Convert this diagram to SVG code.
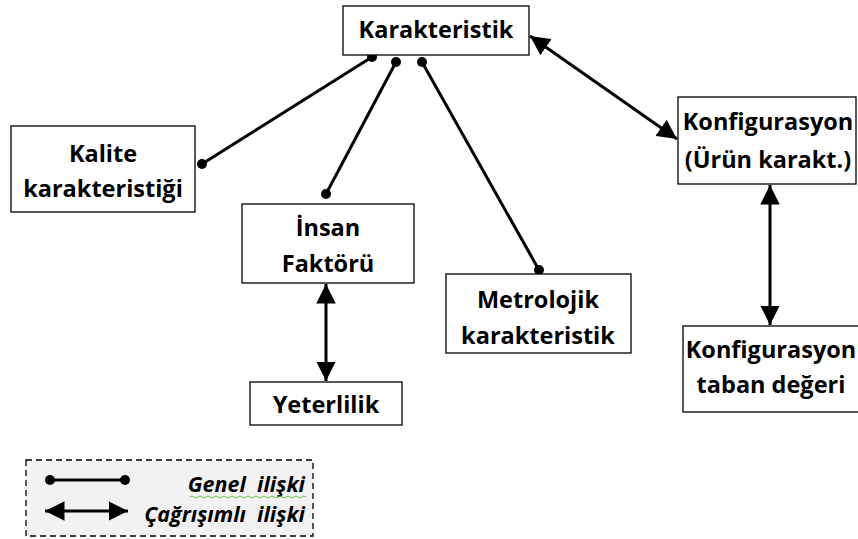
<svg xmlns="http://www.w3.org/2000/svg" width="858" height="539" viewBox="0 0 858 539">
<style>
.box{fill:#fff;stroke:#000;stroke-width:1.3}
.t{font-family:"Open Sans","Liberation Sans",sans-serif;font-weight:700;font-size:23.5px;fill:#000;text-anchor:middle}
.lg{font-family:"Open Sans","Liberation Sans",sans-serif;font-weight:700;font-style:italic;font-size:21.5px;fill:#000;text-anchor:end}
.c{stroke:#000;stroke-width:3;fill:none}
.d{fill:#000}
</style>
<defs>
<marker id="ah" viewBox="0 0 10 10" refX="10" refY="5" markerWidth="6.5" markerHeight="6.5" orient="auto-start-reverse" markerUnits="strokeWidth">
<path d="M0,0 L10,5 L0,10 z" fill="#000"/>
</marker>
</defs>
<rect width="858" height="539" fill="#fff"/>
<g id="connectors">
<line class="c" x1="372" y1="57" x2="202" y2="164"/>
<line class="c" x1="396" y1="62" x2="326" y2="194"/>
<line class="c" x1="422" y1="62" x2="539" y2="270"/>
<circle class="d" cx="372" cy="57" r="5"/>
<circle class="d" cx="202" cy="164" r="5"/>
<circle class="d" cx="396" cy="62" r="5"/>
<circle class="d" cx="326" cy="194" r="5"/>
<circle class="d" cx="422" cy="62" r="5"/>
<circle class="d" cx="539" cy="270" r="5"/>
<line class="c" x1="530" y1="36" x2="677" y2="139" marker-start="url(#ah)" marker-end="url(#ah)"/>
<line class="c" x1="770" y1="185" x2="770" y2="325" marker-start="url(#ah)" marker-end="url(#ah)"/>
<line class="c" x1="326" y1="284" x2="326" y2="381" marker-start="url(#ah)" marker-end="url(#ah)"/>
</g>
<g id="karakteristik">
<rect class="box" x="343" y="6" width="186" height="49"/>
<text class="t" x="436" y="38">Karakteristik</text>
</g>
<g id="kalite">
<rect class="box" x="11" y="126" width="184" height="86"/>
<text class="t" x="103" y="162">Kalite</text>
<text class="t" x="103" y="197">karakteristiği</text>
</g>
<g id="insan">
<rect class="box" x="242" y="204" width="172" height="79"/>
<text class="t" x="328" y="236">İnsan</text>
<text class="t" x="328" y="272">Faktörü</text>
</g>
<g id="metrolojik">
<rect class="box" x="446" y="274" width="185" height="79"/>
<text class="t" x="538" y="308">Metrolojik</text>
<text class="t" x="538" y="344">karakteristik</text>
</g>
<g id="yeterlilik">
<rect class="box" x="250" y="382" width="152" height="43"/>
<text class="t" x="326" y="413">Yeterlilik</text>
</g>
<g id="konfigurasyon">
<rect class="box" x="678" y="97" width="178" height="87"/>
<text class="t" x="768" y="130">Konfigurasyon</text>
<text class="t" x="768" y="168">(Ürün karakt.)</text>
</g>
<g id="taban">
<rect class="box" x="683" y="326" width="180" height="86"/>
<text class="t" x="771" y="358">Konfigurasyon</text>
<text class="t" x="771" y="393">taban değeri</text>
</g>
<g id="legend">
<rect x="26" y="460" width="287" height="76" fill="#f2f2f2" stroke="#000" stroke-width="1.3" stroke-dasharray="6,4"/>
<line class="c" x1="50" y1="480" x2="125" y2="480"/>
<circle class="d" cx="50" cy="480" r="5"/>
<circle class="d" cx="125" cy="480" r="5"/>
<line class="c" x1="45" y1="511" x2="128" y2="511" marker-start="url(#ah)" marker-end="url(#ah)"/>
<text class="lg" x="305" y="492" xml:space="preserve">Genel  ilişki</text>
<path d="M190,497 q2,-2 4,0 t4,0 t4,0 t4,0 t4,0 t4,0 t4,0 t4,0 t4,0 t4,0 t4,0 t4,0 t4,0 t4,0 t4,0 t4,0 t4,0 t4,0 t4,0 t4,0 t4,0 t4,0 t4,0 t4,0 t4,0 t4,0 t4,0 t4,0 t4,0" fill="none" stroke="#6bbf3b" stroke-width="1"/>
<text class="lg" x="305" y="522" xml:space="preserve">Çağrışımlı  ilişki</text>
</g>
</svg>
